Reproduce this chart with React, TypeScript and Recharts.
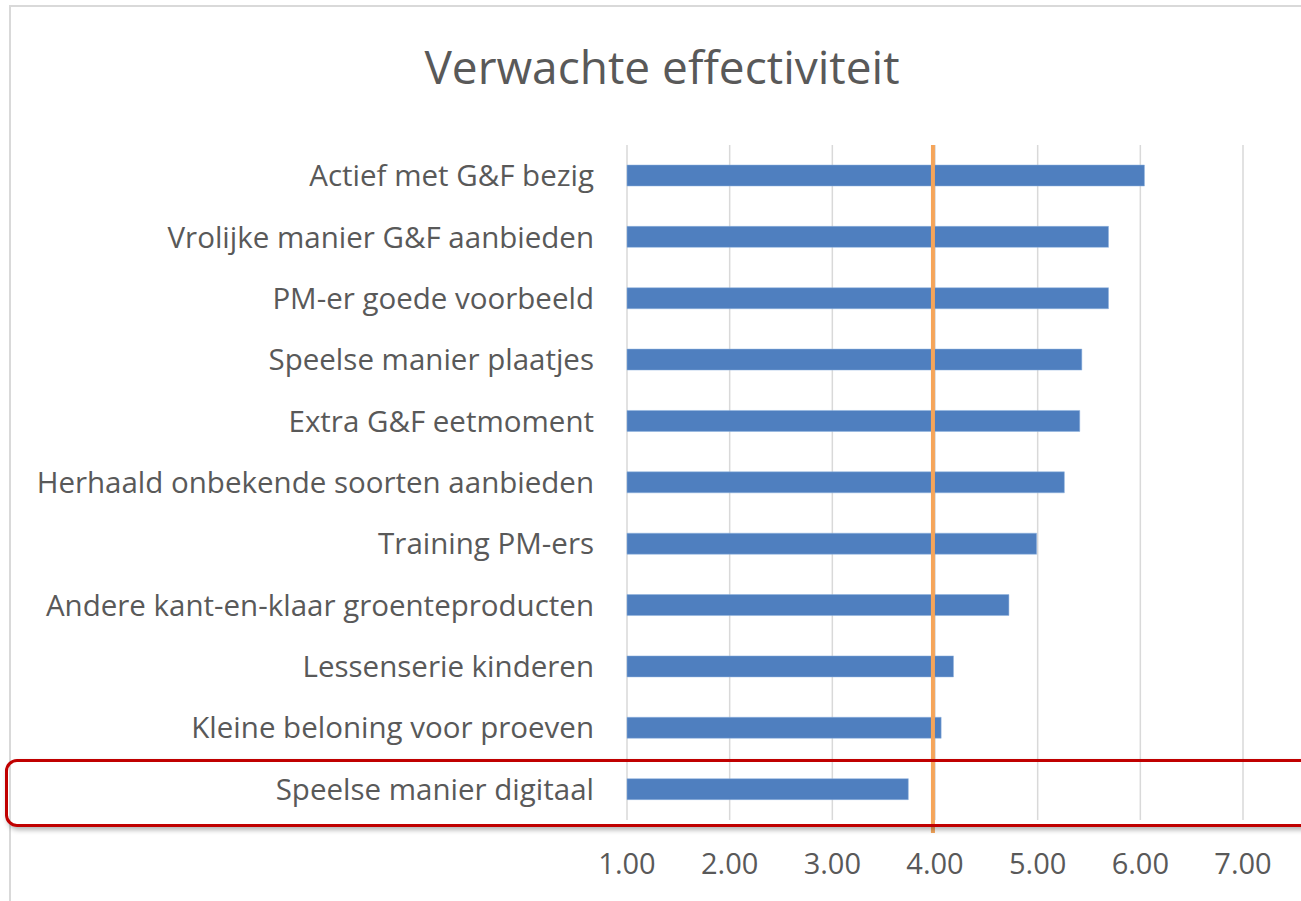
import React from "react";
import {
  BarChart,
  Bar,
  CartesianGrid,
  XAxis,
  YAxis,
  ReferenceLine,
} from "recharts";

const categories = [
  "Actief met G&F bezig",
  "Vrolijke manier G&F aanbieden",
  "PM-er goede voorbeeld",
  "Speelse manier plaatjes",
  "Extra G&F eetmoment",
  "Herhaald onbekende soorten aanbieden",
  "Training PM-ers",
  "Andere kant-en-klaar groenteproducten",
  "Lessenserie kinderen",
  "Kleine beloning voor proeven",
  "Speelse manier digitaal",
];

const scores = [6.04, 5.69, 5.69, 5.43, 5.41, 5.26, 4.99, 4.72, 4.18, 4.06, 3.74];

const xTicks = [1, 2, 3, 4, 5, 6, 7];

const threshold = 3.98;

const data = categories.map((name, i) => ({ name, score: scores[i] }));

const font = "'Open Sans', sans-serif";
const textColor = "#595959";

const App: React.FC = () => {
  return (
    <div
      style={{
        position: "absolute",
        left: 0,
        top: 0,
        width: 1301,
        height: 901,
        overflow: "hidden",
        background: "#ffffff",
        fontFamily: font,
      }}
    >
      {/* chart frame */}
      <div
        style={{
          position: "absolute",
          left: 9,
          top: 5,
          width: 1400,
          height: 1000,
          borderLeft: "2px solid #d9d9d9",
          borderTop: "2px solid #d9d9d9",
        }}
      />

      {/* title */}
      <div
        style={{
          position: "absolute",
          left: 0,
          top: 36,
          width: 1324,
          textAlign: "center",
          fontSize: 46,
          lineHeight: "60px",
          color: textColor,
        }}
      >
        Verwachte effectiviteit
      </div>

      <div style={{ position: "absolute", left: 0, top: 0 }}>
        <BarChart
          width={1320}
          height={901}
          data={data}
          layout="vertical"
          margin={{ top: 145, right: 77, bottom: 0, left: 0 }}
          barCategoryGap={0}
        >
          <CartesianGrid
            horizontal={false}
            stroke="#d9d9d9"
            strokeWidth={1.5}
          />
          <XAxis
            type="number"
            domain={[1, 7]}
            ticks={xTicks}
            tickFormatter={(v: number) => v.toFixed(2)}
            axisLine={false}
            tickLine={false}
            tickSize={0}
            tickMargin={33}
            height={81}
            tick={{ fill: textColor, fontSize: 29, fontFamily: font }}
          />
          <YAxis
            type="category"
            dataKey="name"
            width={627}
            axisLine={false}
            tickLine={false}
            tickSize={0}
            tickMargin={33}
            interval={0}
            tick={{ fill: textColor, fontSize: 29.5, fontFamily: font }}
          />
          <Bar
            dataKey="score"
            fill="#4f7fbf"
            stroke="#8fb3de"
            strokeWidth={0.5}
            barSize={21}
            isAnimationActive={false}
          />
          <ReferenceLine
            x={threshold}
            stroke="#f5a55a"
            strokeWidth={4}
            ifOverflow="visible"
            shape={(p: any) => (
              <line
                x1={p.x1}
                y1={Math.min(p.y1, p.y2)}
                x2={p.x2}
                y2={Math.max(p.y1, p.y2) + 13}
                stroke="#f5a55a"
                strokeWidth={4}
              />
            )}
          />
        </BarChart>
      </div>

      {/* highlight around the last row */}
      <div
        style={{
          position: "absolute",
          left: 5,
          top: 759,
          width: 1400,
          height: 62,
          border: "3px solid #c00000",
          borderRadius: 12,
          boxShadow: "2px 3px 5px rgba(0,0,0,0.3)",
          pointerEvents: "none",
        }}
      />
    </div>
  );
};

export default App;
